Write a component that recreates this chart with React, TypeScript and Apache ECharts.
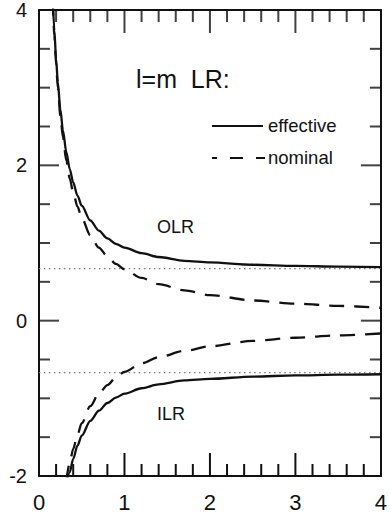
import React, { useEffect, useRef } from "react";
import * as echarts from "echarts";

// OLR branch (upper curves)
const xOLR = [0.16, 0.18, 0.2, 0.22, 0.25, 0.28, 0.32, 0.36, 0.4, 0.45, 0.5, 0.6, 0.7, 0.8, 0.9, 1.0, 1.2, 1.4, 1.7, 2.0, 2.5, 3.0, 3.5, 4.0];
const effectiveOLR = [4.18, 3.73, 3.37, 3.07, 2.72, 2.45, 2.17, 1.95, 1.78, 1.61, 1.48, 1.29, 1.16, 1.06, 0.99, 0.94, 0.87, 0.82, 0.77, 0.75, 0.72, 0.705, 0.696, 0.69];
const nominalOLR = [4.12, 3.67, 3.3, 3.0, 2.64, 2.36, 2.06, 1.83, 1.65, 1.47, 1.32, 1.1, 0.94, 0.83, 0.73, 0.66, 0.55, 0.47, 0.39, 0.33, 0.26, 0.22, 0.19, 0.165];

// ILR branch (lower curves)
const xILR = [0.32, 0.36, 0.4, 0.45, 0.5, 0.6, 0.7, 0.8, 0.9, 1.0, 1.2, 1.4, 1.7, 2.0, 2.5, 3.0, 3.5, 4.0];
const effectiveILR = [-2.17, -1.95, -1.78, -1.61, -1.48, -1.29, -1.16, -1.06, -0.99, -0.94, -0.87, -0.82, -0.77, -0.75, -0.72, -0.705, -0.696, -0.69];
const nominalILR = [-2.06, -1.83, -1.65, -1.47, -1.32, -1.1, -0.94, -0.83, -0.73, -0.66, -0.55, -0.47, -0.39, -0.33, -0.26, -0.22, -0.19, -0.165];

// dotted asymptotes
const asymptoteX = [0, 4];
const asymptoteUpper = [0.67, 0.67];
const asymptoteLower = [-0.67, -0.67];

// axis ranges and tick values
const xRange = [0, 4];
const yRange = [-2, 4];
const xMajorTicks = [1, 2, 3];
const xMinorTicks = [0.2, 0.4, 0.6, 0.8, 1.2, 1.4, 1.6, 1.8, 2.2, 2.4, 2.6, 2.8, 3.2, 3.4, 3.6, 3.8];
const yMajorTicks = [0, 2];
const yMinorTicks = [-1.5, -1, -0.5, 0.5, 1, 1.5, 2.5, 3, 3.5];

const title = "l=m  LR:";
const legendNames = ["effective", "nominal"];
const branchLabels = ["OLR", "ILR"];

const FONT = "'Liberation Sans', Arial, Helvetica, sans-serif";
const INK = "#111";

const pairs = (xs: number[], ys: number[]) => xs.map((x, i) => [x, ys[i]]);

const X_MAJOR = 23;
const X_MINOR = 12;
const Y_MAJOR = 20;
const Y_MINOR = 11;
const TICK_W = 2;

export default function App() {
  const ref = useRef<HTMLDivElement>(null);

  useEffect(() => {
    if (!ref.current) return;
    const chart = echarts.init(ref.current, undefined, { renderer: "svg" });

    const axisLine = () => ({ show: true, onZero: false, lineStyle: { color: INK, width: 2 } });
    const xAxisBase = (pos: "bottom" | "top", showLabel: boolean) => ({
      type: "value",
      position: pos,
      min: xRange[0],
      max: xRange[1],
      interval: 1,
      axisLine: axisLine(),
      axisTick: { show: false },
      minorTick: { show: false },
      splitLine: { show: false },
      minorSplitLine: { show: false },
      axisLabel: { show: showLabel, fontSize: 22, color: INK, margin: 15, fontFamily: FONT },
    });
    const yAxisBase = (pos: "left" | "right", showLabel: boolean) => ({
      type: "value",
      position: pos,
      min: yRange[0],
      max: yRange[1],
      interval: 2,
      axisLine: axisLine(),
      axisTick: { show: false },
      minorTick: { show: false },
      splitLine: { show: false },
      minorSplitLine: { show: false },
      axisLabel: { show: showLabel, fontSize: 20, color: INK, margin: 12, fontFamily: FONT },
    });

    const solid = () => ({ color: INK, width: 2.3, type: "solid" });
    const dashed = () => ({ color: INK, width: 2.3, type: [15, 10] });
    const dotted = () => ({ color: "#777", width: 1.3, type: [1.5, 3.5] });

    const lineSeries = (name: string, data: number[][], lineStyle: any) => ({
      type: "line",
      name,
      data,
      showSymbol: false,
      symbol: "none",
      smooth: 0.3,
      smoothMonotone: "x",
      lineStyle,
      clip: true,
      silent: true,
    });

    // tick marks drawn as rect symbols placed through the axes' scales
    const tickSeries = (data: number[][], size: number[], offset: number[]) => ({
      type: "scatter",
      data,
      symbol: "rect",
      symbolSize: size,
      symbolOffset: offset,
      itemStyle: { color: INK },
      clip: false,
      silent: true,
      z: 5,
    });

    const baseGraphic: any[] = [
      {
        type: "text",
        left: 136,
        top: 66,
        style: { text: title, fontSize: 25, fill: INK, fontFamily: FONT },
      },
      {
        type: "line",
        shape: { x1: 212, y1: 126, x2: 263, y2: 126 },
        style: { stroke: INK, lineWidth: 2 },
      },
      {
        type: "text",
        left: 268,
        top: 116,
        style: { text: legendNames[0], fontSize: 18.5, fill: INK, fontFamily: FONT },
      },
      {
        type: "line",
        shape: { x1: 212, y1: 158, x2: 265, y2: 158 },
        style: { stroke: INK, lineWidth: 2, lineDash: [13, 13], lineDashOffset: 8 },
      },
      {
        type: "text",
        left: 268,
        top: 148,
        style: { text: legendNames[1], fontSize: 18.5, fill: INK, fontFamily: FONT },
      },
      {
        type: "text",
        left: 157,
        top: 218,
        style: { text: branchLabels[0], fontSize: 18, fill: INK, fontFamily: FONT },
      },
      {
        type: "text",
        left: 157,
        top: 405,
        style: { text: branchLabels[1], fontSize: 18, fill: INK, fontFamily: FONT },
      },
    ];

    chart.setOption({
      animation: false,
      backgroundColor: "#fff",
      grid: { left: 39, right: 7, top: 9, bottom: 42 },
      xAxis: [xAxisBase("bottom", true), xAxisBase("top", false)],
      yAxis: [yAxisBase("left", true), yAxisBase("right", false)],
      series: [
        lineSeries("asymptote+", pairs(asymptoteX, asymptoteUpper), dotted()),
        lineSeries("asymptote-", pairs(asymptoteX, asymptoteLower), dotted()),
        lineSeries("effective OLR", pairs(xOLR, effectiveOLR), solid()),
        lineSeries("nominal OLR", pairs(xOLR, nominalOLR), dashed()),
        lineSeries("effective ILR", pairs(xILR, effectiveILR), solid()),
        lineSeries("nominal ILR", pairs(xILR, nominalILR), dashed()),
        // top edge
        tickSeries(xMajorTicks.map((x) => [x, yRange[1]]), [TICK_W, X_MAJOR], [0, X_MAJOR / 2]),
        tickSeries(xMinorTicks.map((x) => [x, yRange[1]]), [TICK_W, X_MINOR], [0, X_MINOR / 2]),
        // left edge
        tickSeries(yMajorTicks.map((y) => [xRange[0], y]), [Y_MAJOR, TICK_W], [Y_MAJOR / 2, 0]),
        tickSeries(yMinorTicks.map((y) => [xRange[0], y]), [Y_MINOR, TICK_W], [Y_MINOR / 2, 0]),
        // right edge
        tickSeries(yMajorTicks.map((y) => [xRange[1], y]), [Y_MAJOR, TICK_W], [-Y_MAJOR / 2, 0]),
        tickSeries(yMinorTicks.map((y) => [xRange[1], y]), [Y_MINOR, TICK_W], [-Y_MINOR / 2, 0]),
      ],
      graphic: baseGraphic,
    });

    // bottom-edge ticks: positions from the chart's own scales
    try {
      const bottomTicks: any[] = [];
      const addTick = (x: number, len: number) => {
        const p = chart.convertToPixel({ xAxisIndex: 0, yAxisIndex: 0 }, [x, yRange[0]]) as number[];
        if (!p || !isFinite(p[0]) || !isFinite(p[1])) return;
        bottomTicks.push({
          type: "line",
          z: 100,
          silent: true,
          shape: { x1: p[0], y1: p[1], x2: p[0], y2: p[1] - len },
          style: { stroke: INK, lineWidth: TICK_W },
        });
      };
      xMajorTicks.forEach((x) => addTick(x, X_MAJOR));
      xMinorTicks.forEach((x) => addTick(x, X_MINOR));
      chart.setOption({ graphic: baseGraphic.concat(bottomTicks) });
    } catch (e) {
      // leave chart as is
    }

    return () => chart.dispose();
  }, []);

  return (
    <div
      ref={ref}
      style={{ position: "fixed", left: 0, top: 0, width: 390, height: 518, background: "#fff" }}
    />
  );
}
